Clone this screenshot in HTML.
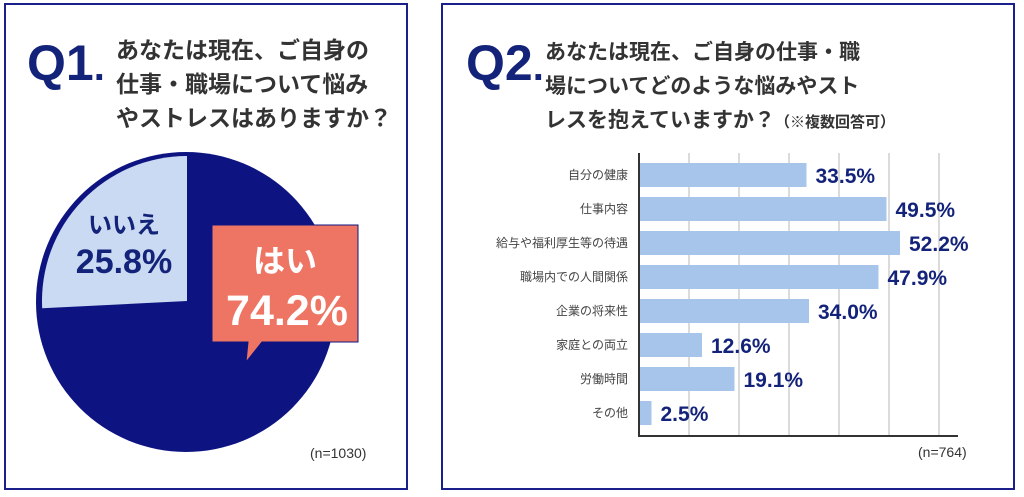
<!DOCTYPE html>
<html><head><meta charset="utf-8">
<style>
html,body{margin:0;padding:0;background:#fff;}
body{width:1024px;height:492px;position:relative;overflow:hidden;font-family:"Liberation Sans","Noto Sans CJK JP",sans-serif;}
svg text{font-family:"Liberation Sans","Noto Sans CJK JP",sans-serif;}
</style></head>
<body>
<svg width="1024" height="492" viewBox="0 0 1024 492">
  <!-- Panel 1 -->
  <rect x="5" y="4" width="402" height="485" fill="#fff" stroke="#1a1f8a" stroke-width="2"/>
  <text x="27" y="80" font-size="50" font-weight="bold" fill="#14237a">Q1<tspan font-size="40">.</tspan></text>
  <g font-size="23" font-weight="bold" fill="#333">
    <text x="116" y="58">あなたは現在、ご自身の</text>
    <text x="116" y="92">仕事・職場について悩み</text>
    <text x="116" y="126">やストレスはありますか？</text>
  </g>
  <g id="pie"></g>
  <text x="310" y="458" font-size="14" fill="#333">(n=1030)</text>

  <!-- Panel 2 -->
  <rect x="442" y="4" width="572" height="485" fill="#fff" stroke="#1a1f8a" stroke-width="2"/>
  <text x="466" y="80" font-size="50" font-weight="bold" fill="#14237a">Q2<tspan font-size="40">.</tspan></text>
  <g font-size="21" font-weight="bold" fill="#333">
    <text x="545" y="59">あなたは現在、ご自身の仕事・職</text>
    <text x="545" y="93">場についてどのような悩みやスト</text>
    <text x="545" y="127">レスを抱えていますか？<tspan font-size="15">（※複数回答可）</tspan></text>
  </g>
  <g id="bars"></g>
  <text x="918" y="457" font-size="14" fill="#333">(n=764)</text>
</svg>
<script>
const pieLabels = ["はい", "いいえ"];
const pieValues = [74.2, 25.8];
const barCategories = ["自分の健康","仕事内容","給与や福利厚生等の待遇","職場内での人間関係","企業の将来性","家庭との両立","労働時間","その他"];
const barValues = [33.5, 49.5, 52.2, 47.9, 34.0, 12.6, 19.1, 2.5];
const gridTicks = [10, 20, 30, 40, 50, 60];

const NS = "http://www.w3.org/2000/svg";
function mk(tag, attrs, parent){const e=document.createElementNS(NS,tag);for(const k in attrs)e.setAttribute(k,attrs[k]);parent.appendChild(e);return e;}

// Pie
(function(){
  const g=document.getElementById('pie');
  const cx=186, cy=302, r=150;
  const c=mk('circle',{cx:cx,cy:cy,r:r,fill:'#0d1481'},g);
  
  
  const total=pieValues[0]+pieValues[1];
  const ang=pieValues[1]/total*2*Math.PI;
  const rr=r-5, ox=cx+1, oy=cy-1;
  const x1=ox, y1=oy-rr;
  const x2=ox-rr*Math.sin(ang), y2=oy-rr*Math.cos(ang);
  const p=mk('path',{d:`M${ox},${oy} L${x1},${y1} A${rr},${rr} 0 0 0 ${x2},${y2} Z`,fill:'#c9daf2'},g);
  
  
  const t1=mk('text',{x:124,y:233,'font-size':24,'font-weight':'bold',fill:'#14237a','text-anchor':'middle'},g);
  t1.textContent=pieLabels[1];
  
  
  const t2=mk('text',{x:124,y:273,'font-size':34,'font-weight':'bold',fill:'#14237a','text-anchor':'middle'},g);
  t2.textContent=pieValues[1].toFixed(1)+'%';
  
  
  const cb=mk('path',{d:'M212,225 H358 V342 H262 L246,362 L248,342 H212 Z',fill:'#ee7564',stroke:'#0d1481','stroke-width':1},g);
  
  
  const t3=mk('text',{x:285,y:272,'font-size':32,'font-weight':'bold',fill:'#fff','text-anchor':'middle'},g);
  t3.textContent=pieLabels[0];
  
  
  const t4=mk('text',{x:287,y:325,'font-size':43,'font-weight':'bold',fill:'#fff','text-anchor':'middle'},g);
  t4.textContent=pieValues[0].toFixed(1)+'%';
  
  
})();

// Bars
(function(){
  const g=document.getElementById('bars');
  const x0=639, pxPer=5, top=153, bottom=436, y0=163, pitch=34, bh=24;
  const xs=v=>x0+v*pxPer;
  gridTicks.forEach(t=>{
    const l=mk('line',{x1:xs(t),x2:xs(t),y1:top,y2:bottom,stroke:'#cfcfcf','stroke-width':1.5},g);
    
    
  });
  barCategories.forEach((c,i)=>{
    const y=y0+i*pitch;
    const b=mk('rect',{x:x0,y:y,width:xs(barValues[i])-x0,height:bh,fill:'#a7c5ea'},g);
    
    
    const lt=mk('text',{x:628,y:y+bh/2+4,'font-size':12,fill:'#444','text-anchor':'end'},g);
    lt.textContent=c;
    
    
    const vt=mk('text',{x:xs(barValues[i])+9,y:y+bh/2+8,'font-size':21,'font-weight':'bold',fill:'#14237a'},g);
    vt.textContent=barValues[i].toFixed(1)+'%';
    
    
  });
  const ax=mk('path',{d:`M${x0},${top} V${bottom} H958`,fill:'none',stroke:'#333','stroke-width':2},g);
  
  
})();
</script>
</body></html>
